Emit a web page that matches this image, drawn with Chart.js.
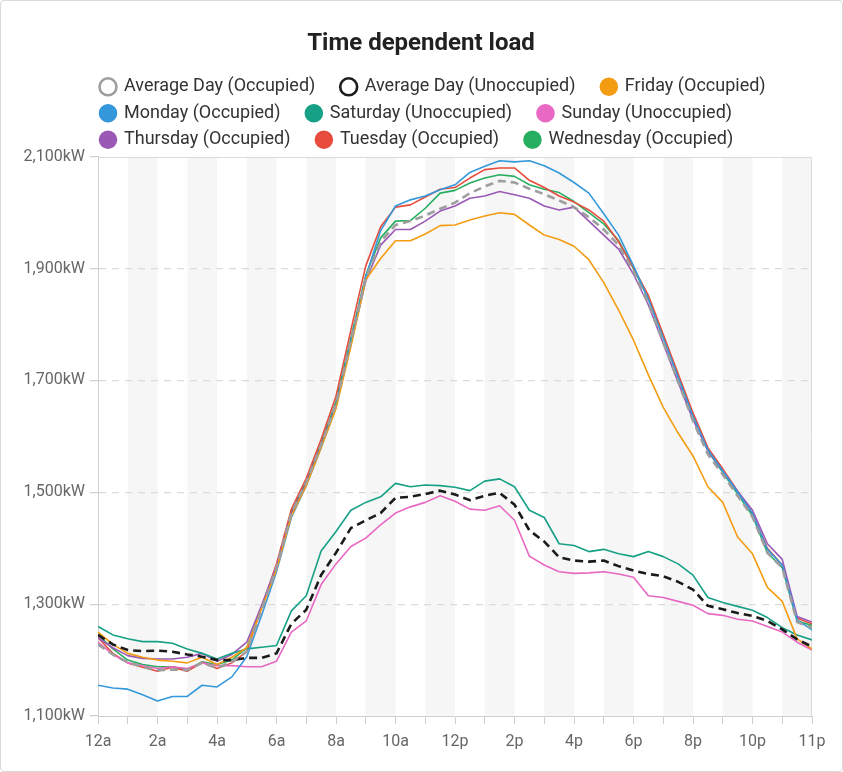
<!DOCTYPE html>
<html>
<head>
<meta charset="utf-8">
<script src="https://cdn.jsdelivr.net/npm/chart.js@4.4.1/dist/chart.umd.min.js"></script>
<style>
  html, body { margin: 0; padding: 0; background: #fff; }
  #card { position: absolute; left: 0; top: 0; width: 843px; height: 772px; box-sizing: border-box;
          border: 1px solid #d9d9d9; border-radius: 4px; background: #fff; }
  #wrap { position: absolute; left: 0; top: 0; width: 841px; height: 770px; }
</style>
</head>
<body>
<div id="card"><div id="wrap"><canvas id="c"></canvas></div></div>
<script>
// ---- data (half-hour steps, hour of day) ----
const hours = [0,0.5,1,1.5,2,2.5,3,3.5,4,4.5,5,5.5,6,6.5,7,7.5,8,8.5,9,9.5,10,10.5,11,11.5,12,12.5,13,13.5,14,14.5,15,15.5,16,16.5,17,17.5,18,18.5,19,19.5,20,20.5,21,21.5,22,22.5,23,23.5,24];

const tickHours  = [0,2,4,6,8,10,12,14,16,18,20,22,24];
const tickLabels = ['12a','2a','4a','6a','8a','10a','12p','2p','4p','6p','8p','10p','11p'];

const seriesNames = ['Average Day (Occupied)','Average Day (Unoccupied)','Friday (Occupied)','Monday (Occupied)',
  'Saturday (Unoccupied)','Sunday (Unoccupied)','Thursday (Occupied)','Tuesday (Occupied)','Wednesday (Occupied)'];

const avgOccupied = [1228,1210,1196,1188,1182,1183,1182,1195,1186,1197,1215,1290,1365,1463,1518,1585,1658,1770,1882,1948,1978,1985,1995,2007,2018,2035,2047,2057,2054,2043,2033,2022,2010,1992,1970,1942,1895,1838,1768,1698,1628,1568,1532,1494,1456,1392,1365,1268,1258];
const avgUnoccupied = [1245,1228,1218,1216,1217,1215,1210,1206,1200,1200,1204,1204,1212,1265,1290,1352,1392,1436,1450,1463,1490,1492,1497,1503,1496,1486,1494,1499,1478,1432,1412,1384,1378,1376,1378,1368,1360,1354,1350,1340,1326,1297,1291,1284,1279,1270,1255,1237,1224];
const friday = [1250,1228,1212,1205,1200,1198,1195,1205,1192,1205,1222,1292,1362,1458,1512,1580,1650,1760,1880,1918,1950,1950,1962,1977,1978,1987,1994,2000,1997,1978,1960,1952,1940,1916,1875,1826,1772,1710,1652,1606,1565,1510,1482,1420,1390,1330,1305,1238,1220];
const monday = [1155,1150,1148,1138,1127,1135,1135,1155,1152,1170,1206,1280,1358,1455,1512,1580,1652,1770,1885,1968,2012,2023,2030,2041,2050,2072,2083,2093,2091,2093,2084,2071,2054,2035,1998,1960,1905,1845,1776,1706,1636,1576,1538,1500,1462,1398,1370,1272,1254];
const saturday = [1260,1245,1238,1233,1233,1230,1220,1212,1202,1212,1220,1223,1226,1288,1315,1395,1430,1468,1482,1492,1516,1510,1513,1512,1509,1503,1520,1524,1510,1468,1455,1408,1405,1394,1398,1390,1385,1394,1385,1372,1352,1312,1303,1296,1289,1276,1258,1245,1236];
const sunday = [1232,1210,1195,1190,1185,1188,1185,1195,1190,1190,1188,1188,1198,1250,1270,1335,1372,1403,1418,1442,1463,1474,1482,1494,1484,1470,1468,1476,1450,1386,1370,1358,1355,1356,1358,1354,1348,1315,1312,1305,1298,1283,1280,1273,1270,1260,1250,1232,1218];
const thursday = [1240,1222,1208,1203,1202,1202,1205,1212,1198,1210,1232,1298,1368,1462,1516,1584,1655,1765,1878,1942,1970,1970,1985,2003,2012,2026,2030,2038,2032,2026,2012,2005,2010,1985,1960,1935,1890,1835,1766,1697,1630,1574,1538,1502,1468,1408,1380,1278,1268];
const tuesday = [1240,1212,1195,1187,1180,1187,1180,1196,1185,1195,1215,1295,1372,1470,1525,1595,1672,1790,1905,1975,2010,2014,2028,2042,2045,2062,2077,2080,2080,2058,2045,2030,2019,2005,1985,1948,1902,1852,1782,1712,1642,1580,1542,1502,1462,1400,1370,1275,1265];
const wednesday = [1245,1220,1200,1192,1188,1188,1182,1197,1192,1200,1222,1295,1368,1466,1520,1588,1662,1776,1888,1955,1985,1986,2008,2035,2040,2053,2062,2068,2065,2050,2042,2036,2020,2000,1980,1950,1900,1846,1777,1707,1636,1574,1536,1497,1458,1392,1365,1270,1262];

const yTicks = [1100,1300,1500,1700,1900,2100];

// ---- styling ----
const seriesValues = [avgOccupied, avgUnoccupied, friday, monday, saturday, sunday, thursday, tuesday, wednesday];
const seriesColors = ['#9e9e9e','#1b1b1b','#f39c12','#3498db','#16a085','#e868c3','#9b59b6','#e74c3c','#27ae60'];

const FONT = 'Roboto, "Noto Sans", sans-serif';

const datasets = seriesNames.map((name, i) => {
  const avg = i < 2;
  return {
    label: name,
    data: hours.map((h, k) => ({x: h, y: seriesValues[i][k]})),
    borderColor: seriesColors[i],
    backgroundColor: avg ? '#ffffff' : seriesColors[i],
    borderWidth: avg ? 2.6 : 1.6,
    borderDash: avg ? [8, 5] : [],
    pointRadius: 0,
    pointHoverRadius: 0,
    tension: 0,
    borderJoinStyle: 'round',
    fill: false
  };
});

const helperPlugin = {
  id: 'helper',
  afterLayout(chart) {
    const lg = chart.legend;
    if (lg) {
      const dx = chart.chartArea.left + 3 - (lg.left + lg.options.labels.padding);
      lg.left += dx; lg.right += dx;
      lg.top += 2; lg.bottom += 2;
    }
    const tb = chart.titleBlock;
    if (tb) {
      const w = tb.right - tb.left;
      tb.left = 420 - w / 2; tb.right = 420 + w / 2;
      tb.top += 2; tb.bottom += 2;
    }
  },
  beforeDraw(chart) {
    const {ctx, chartArea: a, scales: {x}} = chart;
    ctx.save();
    ctx.fillStyle = '#f6f6f6';
    for (let h = 1; h < 24; h += 2) {
      const x0 = x.getPixelForValue(h), x1 = x.getPixelForValue(h + 1);
      ctx.fillRect(x0, a.top, x1 - x0, a.bottom - a.top);
    }
    ctx.strokeStyle = '#dadada';
    ctx.lineWidth = 1;
    ctx.beginPath();
    ctx.moveTo(a.left, Math.round(a.top) + 0.5);
    ctx.lineTo(Math.round(a.right) - 0.5, Math.round(a.top) + 0.5);
    ctx.lineTo(Math.round(a.right) - 0.5, a.bottom);
    ctx.stroke();
    ctx.restore();
  }
};

new Chart(document.getElementById('c'), {
  type: 'line',
  data: { datasets },
  plugins: [helperPlugin],
  options: {
    responsive: true,
    maintainAspectRatio: false,
    animation: false,
    layout: { padding: { left: 2, right: 30, top: 0, bottom: 0 } },
    plugins: {
      title: {
        display: true,
        text: 'Time dependent load',
        color: '#212121',
        font: { family: FONT, size: 24, weight: 'bold' },
        padding: { top: 27, bottom: 10.5 }
      },
      legend: {
        display: true,
        position: 'top',
        align: 'start',
        labels: {
          usePointStyle: true,
          pointStyle: 'circle',
          boxWidth: 14,
          boxHeight: 12,
          padding: 8.5,
          color: '#333333',
          font: { family: FONT, size: 18 },
          generateLabels(chart) {
            const items = Chart.defaults.plugins.legend.labels.generateLabels(chart);
            items.forEach(it => { it.lineDash = []; it.text = it.text + '    '; });
            return items;
          }
        }
      },
      tooltip: { enabled: false }
    },
    scales: {
      x: {
        type: 'linear',
        min: 0, max: 24,
        afterFit(scale) { scale.height = 55; },
        afterBuildTicks(scale) { scale.ticks = hours.filter(h => Number.isInteger(h)).map(h => ({value: h})); },
        ticks: {
          autoSkip: false,
          maxRotation: 0,
          padding: 8,
          color: '#666666',
          font: { family: FONT, size: 16 },
          callback(v) { const i = tickHours.indexOf(v); return i >= 0 ? tickLabels[i] : ''; }
        },
        grid: { display: true, drawOnChartArea: false, drawTicks: true, tickLength: 8, tickColor: '#cfcfcf' },
        border: { display: true, color: '#cfcfcf', width: 1 }
      },
      y: {
        type: 'linear',
        min: 1100, max: 2100,
        afterFit(scale) { scale.width = 95; },
        afterBuildTicks(scale) { scale.ticks = yTicks.map(v => ({value: v})); },
        ticks: {
          padding: 5,
          color: '#666666',
          font: { family: FONT, size: 16 },
          callback(v) { return v.toLocaleString('en-US') + 'kW'; }
        },
        grid: {
          display: true,
          drawTicks: true,
          tickLength: 8,
          tickColor: '#cfcfcf',
          color: (c) => (c.tick && (c.tick.value === 1100 || c.tick.value === 2100)) ? 'rgba(0,0,0,0)' : '#dcdcdc',
          lineWidth: 1.2
        },
        border: { display: true, color: '#cfcfcf', width: 1, dash: [7, 6] }
      }
    }
  }
});
</script>
</body>
</html>
